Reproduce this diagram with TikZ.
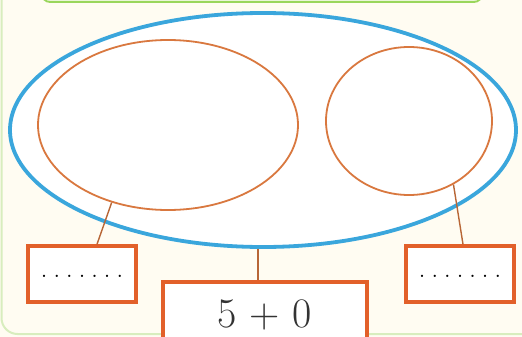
\documentclass[tikz,border=0pt]{standalone}
\usetikzlibrary{shapes.geometric}
\definecolor{cream}{HTML}{FFFCF2}
\definecolor{framegreen}{HTML}{D8EDBE}
\definecolor{topgreen}{HTML}{9AD65C}
\definecolor{topfill}{HTML}{EAF6D8}
\definecolor{bigblue}{HTML}{3AA6DC}
\definecolor{ovalorange}{HTML}{D9783F}
\definecolor{boxorange}{HTML}{E2602A}
\newcommand{\dotrow}{\raisebox{-7pt}{.\hspace{5.6pt}.\hspace{5.6pt}.\hspace{5.6pt}.\hspace{5.6pt}.\hspace{5.6pt}.\hspace{5.6pt}.}}
\tikzset{
  bigoval/.style={ellipse, draw=bigblue, line width=3.8pt, fill=white, inner sep=0pt},
  oval/.style={ellipse, draw=ovalorange, line width=1.8pt, fill=white, inner sep=0pt},
  dotbox/.style={rectangle, draw=boxorange, line width=3.5pt, fill=white, minimum width=108pt, minimum height=56pt, inner sep=0pt, font=\fontsize{28}{28}\selectfont},
  sumbox/.style={rectangle, draw=boxorange, line width=3.5pt, fill=white, minimum width=204pt, minimum height=66pt, inner sep=0pt, font=\fontsize{42}{42}\selectfont, text=black!80},
  link/.style={draw=ovalorange!85!black, line width=1.4pt}
}
\begin{document}
\begin{tikzpicture}[x=1pt,y=-1pt]
\useasboundingbox (0,0) rectangle (522,337);
\clip (0,0) rectangle (522,337);
\fill[cream] (0,0) rectangle (522,337);
\draw[framegreen, line width=2pt, rounded corners=16pt] (1.5,-30) rectangle (560,334);
\draw[topgreen, fill=topfill, line width=1.8pt, rounded corners=8pt] (42,-30) rectangle (482,2);
% ovals
\node[bigoval, minimum width=506pt, minimum height=234pt] (big) at (263,130) {};
\node[oval, minimum width=260pt, minimum height=170pt] (lefte) at (168,125) {};
\node[oval, minimum width=166pt, minimum height=148pt] (righte) at (409,121) {};
% boxes
\node[dotbox] (lbox) at (82,274) {\dotrow};
\node[dotbox] (rbox) at (460,274) {\dotrow};
\node[sumbox] (cbox) at (265,315) {5 + 0};
% connectors
\draw[link] (lefte.234) -- ([xshift=15pt]lbox.north);
\draw[link] (righte.305) -- ([xshift=3pt]rbox.north);
\draw[link] ([xshift=-5pt]big.south) -- ([xshift=-7pt]cbox.north);
\end{tikzpicture}
\end{document}
